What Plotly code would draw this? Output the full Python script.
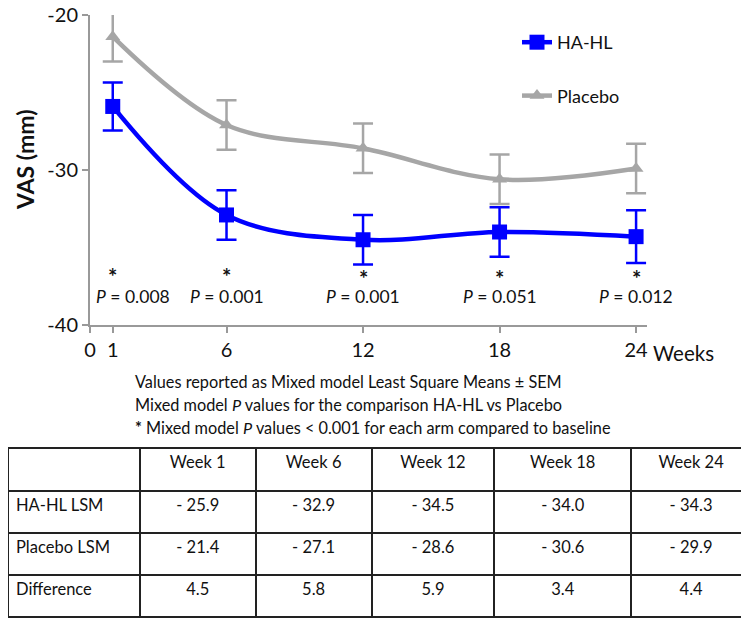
import plotly.graph_objects as go

weeks = [1, 6, 12, 18, 24]
ha_hl = [-25.9, -32.9, -34.5, -34.0, -34.3]
placebo = [-21.4, -27.1, -28.6, -30.6, -29.9]
ha_hl_sem = [1.55, 1.6, 1.6, 1.6, 1.7]
placebo_sem = [1.6, 1.6, 1.6, 1.6, 1.6]
difference = [4.5, 5.8, 5.9, 3.4, 4.4]
p_values = ["0.008", "0.001", "0.001", "0.051", "0.012"]
x_ticks = [0, 1, 6, 12, 18, 24]
y_ticks = [-20, -30, -40]

W, H = 749, 620
OFF = 8  # page margin around the plot div
BLUE = '#0000FF'
GRAY = '#A6A6A6'
FONT = 'Lato'


def px(x):
    return min(max((x - OFF) / W, 0), 1)


def py(y):
    return min(max(1 - (y - OFF) / H, 0), 1)


fig = go.Figure()

fig.add_trace(go.Scatter(
    x=weeks, y=ha_hl,
    name='HA-HL',
    mode='lines+markers',
    line=dict(color=BLUE, width=4.5, shape='spline', smoothing=1),
    marker=dict(symbol='square', size=15, color=BLUE),
    error_y=dict(type='data', array=ha_hl_sem, color=BLUE, thickness=2.5, width=10),
    legendgroup='a',
))

fig.add_trace(go.Scatter(
    x=weeks, y=placebo,
    name='Placebo',
    mode='lines+markers',
    line=dict(color=GRAY, width=4.5, shape='spline', smoothing=1),
    marker=dict(symbol='triangle-up', size=13, color=GRAY),
    error_y=dict(type='data', array=placebo_sem, color=GRAY, thickness=2.5, width=10),
    legendgroup='b',
))

# summary table below the chart
row_labels = ['HA-HL LSM', 'Placebo LSM', 'Difference']
header = [''] + [f'Week {w}' for w in weeks]
cols = [row_labels]
for i in range(len(weeks)):
    cols.append([f'- {abs(ha_hl[i]):.1f}', f'- {abs(placebo[i]):.1f}', f'{difference[i]:.1f}'])

fig.add_trace(go.Table(
    domain=dict(x=[px(3), px(751)], y=[py(618), py(448)]),
    columnwidth=[132, 116, 116, 123, 137, 120],
    header=dict(
        values=header,
        align=['left', 'center'],
        height=43,
        fill_color='white',
        line=dict(color='#222', width=2),
        font=dict(family=FONT, size=16.5, color='#111'),
    ),
    cells=dict(
        values=cols,
        align=['left', 'center'],
        height=42,
        fill_color='white',
        line=dict(color='#222', width=2),
        font=dict(family=FONT, size=16.5, color='#111'),
    ),
))

annotations = []
for i, w in enumerate(weeks):
    shift = 20 if i == 0 else 0
    annotations.append(dict(
        x=w, xref='x', y=py(296), yref='paper', xshift=shift,
        xanchor='center', yanchor='middle',
        text=f'<i>P</i> = {p_values[i]}', showarrow=False,
        font=dict(family=FONT, size=17.5, color='#111'),
    ))
    annotations.append(dict(
        x=w, xref='x', y=py(276 if i < 2 else 279), yref='paper',
        xanchor='center', yanchor='middle',
        text='<b>*</b>', showarrow=False,
        font=dict(family=FONT, size=22, color='#111'),
    ))

annotations.append(dict(
    x=px(25), y=py(160), xref='paper', yref='paper', textangle=-90,
    xanchor='center', yanchor='middle',
    text='<b>VAS (mm)</b>', showarrow=False,
    font=dict(family=FONT, size=23, color='#111'),
))
annotations.append(dict(
    x=px(651), y=py(353), xref='paper', yref='paper',
    xanchor='left', yanchor='middle',
    text='Weeks', showarrow=False,
    font=dict(family=FONT, size=20.5, color='#111'),
))

notes = [
    'Values reported as Mixed model Least Square Means ± SEM',
    'Mixed model <i>P</i> values for the comparison HA-HL vs Placebo',
    '<b>*</b> Mixed model <i>P</i> values &lt; 0.001 for each arm compared to baseline',
]
for j, line in enumerate(notes):
    annotations.append(dict(
        x=px(133), y=py(381 + 23.5 * j), xref='paper', yref='paper',
        xanchor='left', yanchor='middle',
        text=line, showarrow=False,
        font=dict(family=FONT, size=16.3, color='#111'),
    ))

fig.update_layout(
    width=W, height=H,
    margin=dict(l=0, r=0, t=0, b=0, autoexpand=False),
    paper_bgcolor='white',
    plot_bgcolor='white',
    font=dict(family=FONT, color='#111'),
    xaxis=dict(
        domain=[px(90), px(647)],
        range=[0, 24.48],
        tickvals=x_ticks,
        ticks='outside', ticklen=6, tickcolor='#999', tickwidth=2,
        showline=True, linecolor='#999', linewidth=2,
        showgrid=False, zeroline=False, automargin=False,
        tickfont=dict(family=FONT, size=20, color='#111'),
    ),
    yaxis=dict(
        domain=[py(325), py(15)],
        range=[-40, -20],
        tickvals=y_ticks,
        ticktext=[f'-{abs(v)}' for v in y_ticks],
        ticks='outside', ticklen=6, tickcolor='#999', tickwidth=2,
        showline=True, linecolor='#999', linewidth=2,
        showgrid=False, zeroline=False, automargin=False,
        ticklabeloverflow='allow',
        tickfont=dict(family=FONT, size=20, color='#111'),
    ),
    legend=dict(
        x=px(517), y=py(24), xanchor='left', yanchor='top',
        bgcolor='rgba(0,0,0,0)',
        font=dict(family=FONT, size=18, color='#111'),
        tracegroupgap=27,
    ),
    annotations=annotations,
)

fig.write_html("out.html")
